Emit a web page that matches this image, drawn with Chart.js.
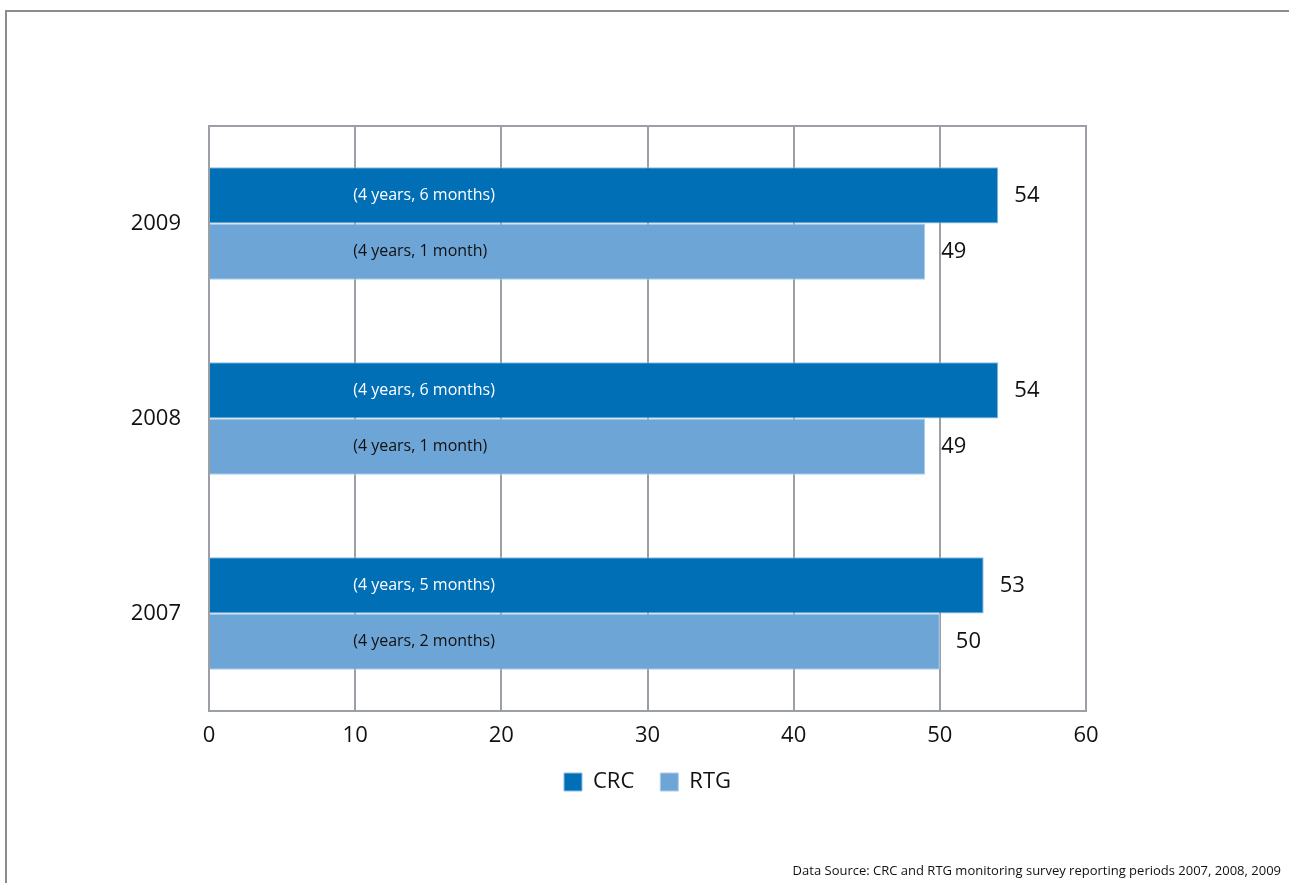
<!DOCTYPE html>
<html>
<head>
<meta charset="utf-8">
<title>CRC and RTG</title>
<script src="https://cdn.jsdelivr.net/npm/chart.js@4/dist/chart.umd.min.js"></script>
<style>
  html, body { margin: 0; padding: 0; background: #fff; overflow: hidden; }
  .page { position: relative; width: 1289px; height: 883px; }
  .frame {
    position: absolute; left: 5px; top: 10px; width: 1300px; height: 900px;
    border-top: 2px solid #8c8c8c; border-left: 2px solid #8c8c8c;
  }
  canvas { position: absolute; left: 0; top: 0; }
  .source {
    position: absolute; right: 8px; bottom: 4px;
    font: 13px "Open Sans", sans-serif; color: #111;
  }
</style>
</head>
<body>
<div class="page">
  <div class="frame"></div>
  <canvas id="durationChart" width="1289" height="883"></canvas>
  <div class="source">Data Source: CRC and RTG monitoring survey reporting periods 2007, 2008, 2009</div>
</div>
<script>
// Reporting years, top to bottom
const years = ["2009", "2008", "2007"];

// Values per year
const crcValues = [54, 54, 53];
const rtgValues = [49, 49, 50];

// Duration notes printed inside the bars
const crcNotes = ["(4 years, 6 months)", "(4 years, 6 months)", "(4 years, 5 months)"];
const rtgNotes = ["(4 years, 1 month)", "(4 years, 1 month)", "(4 years, 2 months)"];

// Axis ticks
const xMin = 0;
const xMax = 60;
const xStep = 10;

const FONT = "'Open Sans', sans-serif";
const GRID = "#9aa0a5";

// Box around the plot area (top and right edges)
const plotFrame = {
  id: "plotFrame",
  beforeDatasetsDraw(chart) {
    const { ctx, chartArea } = chart;
    ctx.save();
    ctx.strokeStyle = GRID;
    ctx.lineWidth = 2;
    ctx.beginPath();
    ctx.moveTo(chartArea.left, chartArea.top);
    ctx.lineTo(chartArea.right, chartArea.top);
    ctx.lineTo(chartArea.right, chartArea.bottom);
    ctx.stroke();
    ctx.restore();
  },
};

// Value labels at bar ends and duration notes inside bars
const barLabels = {
  id: "barLabels",
  afterDatasetsDraw(chart) {
    const { ctx } = chart;
    const xScale = chart.scales.x;
    const notes = [crcNotes, rtgNotes];
    ctx.save();
    ctx.textBaseline = "middle";
    chart.data.datasets.forEach((ds, i) => {
      const meta = chart.getDatasetMeta(i);
      meta.data.forEach((bar, j) => {
        ctx.textAlign = "left";
        ctx.font = "22px " + FONT;
        ctx.fillStyle = "#111";
        ctx.fillText(String(ds.data[j]), bar.x + 16, bar.y);

        ctx.font = "16px " + FONT;
        ctx.fillStyle = i === 0 ? "#fff" : "#111";
        ctx.fillText(notes[i][j], xScale.getPixelForValue(10) - 2, bar.y);
      });
    });
    ctx.restore();
  },
};

new Chart(document.getElementById("durationChart"), {
  type: "bar",
  data: {
    labels: years,
    datasets: [
      {
        label: "CRC",
        data: crcValues,
        backgroundColor: "#006fb6",
        borderColor: "#8dbde3",
        borderWidth: 1,
        borderSkipped: "left",
      },
      {
        label: "RTG",
        data: rtgValues,
        backgroundColor: "#6ea5d7",
        borderColor: "#a9cdec",
        borderWidth: 1,
        borderSkipped: "left",
      },
    ],
  },
  options: {
    indexAxis: "y",
    responsive: false,
    animation: false,
    categoryPercentage: 0.578,
    barPercentage: 1,
    layout: {
      padding: { left: 0, top: 126, right: 203, bottom: 80 },
    },
    plugins: {
      legend: {
        position: "bottom",
        fullSize: false, // centre under the plot area
        labels: {
          font: { family: FONT, size: 22 },
          color: "#111",
          boxWidth: 18,
          boxHeight: 18,
          padding: 26,
        },
      },
      tooltip: { enabled: false },
    },
    scales: {
      x: {
        min: xMin,
        max: xMax,
        ticks: {
          stepSize: xStep,
          padding: 12,
          color: "#111",
          font: { family: FONT, size: 22 },
        },
        grid: { color: GRID, lineWidth: 2, drawTicks: false },
        border: { color: GRID, width: 2 },
        afterFit(scale) {
          scale.height = 34;
        },
      },
      y: {
        ticks: {
          padding: 28,
          color: "#111",
          font: { family: FONT, size: 22 },
        },
        grid: { display: false, drawTicks: false },
        border: { color: GRID, width: 2 },
        afterFit(scale) {
          scale.width = 209;
        },
      },
    },
  },
  plugins: [plotFrame, barLabels],
});
</script>
</body>
</html>
